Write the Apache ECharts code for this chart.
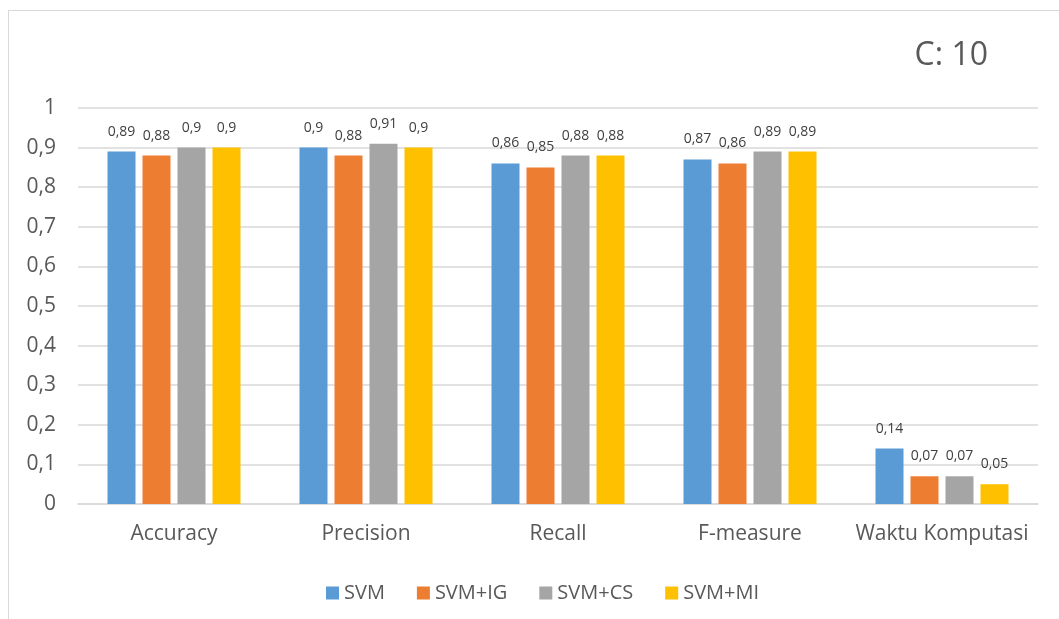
<!DOCTYPE html>
<html><head><meta charset="utf-8">
<script src="https://cdn.jsdelivr.net/npm/echarts@6/dist/echarts.min.js"></script>
<style>
html,body{margin:0;padding:0;background:#fff;}
#frame{position:absolute;left:8px;top:10px;width:1100px;height:700px;border-left:1px solid #d9d9d9;border-top:1px solid #d9d9d9;}
#c{position:absolute;left:0;top:0;width:1059px;height:619px;}
</style></head><body>
<div id="frame"></div>
<div id="c"></div>
<script>
const categories = ['Accuracy','Precision','Recall','F-measure','Waktu Komputasi'];
const seriesNames = ['SVM','SVM+IG','SVM+CS','SVM+MI'];
const svm   = [0.89, 0.90, 0.86, 0.87, 0.14];
const svmIG = [0.88, 0.88, 0.85, 0.86, 0.07];
const svmCS = [0.90, 0.91, 0.88, 0.89, 0.07];
const svmMI = [0.90, 0.90, 0.88, 0.89, 0.05];
const colors = ['#5b9bd5','#ed7d31','#a5a5a5','#ffc000'];
const font = '"Open Sans", sans-serif';
const fmt = v => String(+v.toFixed(2)).replace('.', ',');
const chart = echarts.init(document.getElementById('c'));
const data = [svm, svmIG, svmCS, svmMI];
chart.setOption({
  animation:false,
  title:{text:'C: 10', right:66, top:35, textStyle:{fontFamily:font, fontSize:32, fontWeight:'normal', color:'#595959'}},
  legend:{bottom:11, left:321, itemWidth:13, itemHeight:13, itemGap:32, icon:'rect',
    textStyle:{fontFamily:font, fontSize:20, color:'#595959'}},
  grid:{left:78, right:21, top:108, bottom:115},
  xAxis:{type:'category', data:categories,
    axisLine:{lineStyle:{color:'#d9d9d9', width:1.5}}, axisTick:{show:false},
    axisLabel:{fontFamily:font, fontSize:21, color:'#595959', margin:20, interval:0}},
  yAxis:{type:'value', min:0, max:1, interval:0.1,
    axisLine:{show:false}, axisTick:{show:false},
    splitLine:{lineStyle:{color:'#d9d9d9', width:1.5}},
    axisLabel:{fontFamily:font, fontSize:21, color:'#595959', margin:22, formatter:fmt}},
  series: seriesNames.map((n,i)=>({
    name:n, type:'bar', data:data[i], barWidth:28, barGap:'25%',
    itemStyle:{color:colors[i]},
    label:{show:true, position:'top', distance:13, fontFamily:font, fontSize:14, color:'#404040', formatter:p=>fmt(p.value)}
  }))
});
</script>
</body></html>
